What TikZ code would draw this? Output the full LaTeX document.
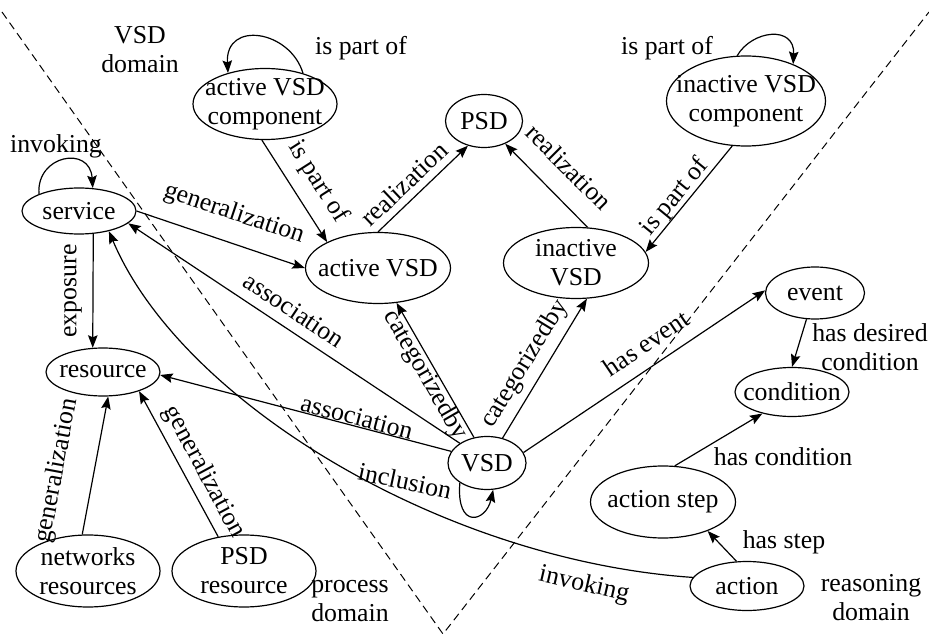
\documentclass[tikz,border=0pt]{standalone}
\usepackage{fontspec}
\setmainfont{Liberation Serif}
\usetikzlibrary{shapes.geometric,arrows.meta}
\tikzset{
  ell/.style={draw, ellipse, line width=1.2pt, inner sep=0pt},
  lbl/.style={align=center, inner sep=0pt, font=\fontsize{25.8}{29}\selectfont},
  txt/.style={align=center, inner sep=0pt, font=\fontsize{25.8}{29}\selectfont},
  arr/.style={line width=1.2pt, -{Stealth[length=12.5pt,width=9.5pt,inset=2pt]}},
  domline/.style={line width=1pt, dash pattern=on 8pt off 5pt}
}
\begin{document}
\begin{tikzpicture}[x=1pt,y=-1pt]
\useasboundingbox (0,0) rectangle (929,636);
% domain borders
\coordinate (dl) at (2,12);
\coordinate (dv) at (443,634);
\coordinate (dr) at (929,12);
\draw[domline] (dl) -- (dv) -- (dr);

% nodes
\node[ell, minimum width=114pt, minimum height=46pt, label={[lbl]center:service}] (svc) at (79,211) {};
\node[ell, minimum width=114pt, minimum height=48pt, label={[lbl]center:resource}] (res) at (103,372) {};
\node[ell, minimum width=144pt, minimum height=72pt, label={[lbl]center:networks\\resources}] (nr) at (88,571) {};
\node[ell, minimum width=144pt, minimum height=72pt, label={[lbl]center:PSD\\resource}] (psdr) at (244,571) {};
\node[ell, minimum width=144pt, minimum height=71pt, label={[lbl]center:active VSD\\component}] (avc) at (265,104) {};
\node[ell, minimum width=145pt, minimum height=71pt, label={[lbl]center:active VSD}] (avsd) at (378,268) {};
\node[ell, minimum width=77pt, minimum height=53pt, label={[lbl]center:PSD}] (psd) at (484,121) {};
\node[ell, minimum width=159pt, minimum height=90pt, label={[lbl]center:inactive VSD\\component}] (ivc) at (746,101) {};
\node[ell, minimum width=145pt, minimum height=71pt, label={[lbl]center:inactive\\VSD}] (ivsd) at (576,263) {};
\node[ell, minimum width=99pt, minimum height=52pt, label={[lbl]center:event}] (evt) at (815,293) {};
\node[ell, minimum width=114pt, minimum height=49pt, label={[lbl]center:condition}] (cond) at (792,392) {};
\node[ell, minimum width=145pt, minimum height=72pt, label={[lbl]center:action step}] (astep) at (663,502) {};
\node[ell, minimum width=114pt, minimum height=49pt, label={[lbl]center:action}] (act) at (747,586) {};
\node[ell, minimum width=78pt, minimum height=53pt, label={[lbl]center:VSD}] (vsd) at (487,463) {};

% connectors
\draw[arr] (avc.39) .. controls (290,30) and (225,20) .. (avc.140);
\draw[arr] (ivc.101) .. controls (752,30) and (795,25) .. (ivc.38);
\draw[arr] (svc.157) .. controls (36,155) and (90,145) .. (svc.59);
\draw[arr] (svc.east) -- (avsd.west);
\draw[arr] (avc.265) -- (avsd.153);
\draw[arr] (avsd.90) -- (psd.237);
\draw[arr] (ivsd.72) -- (psd.-47);
\draw[arr] (ivc.253) -- (ivsd.9);
\draw[arr] (vsd.117) -- (avsd.-62);
\draw[arr] (vsd.58) -- (ivsd.-73);
\draw[arr] (vsd.144) -- (svc.-14);
\draw[arr] (vsd.162) -- (res.-3);
\draw[arr] (vsd.216) .. controls (456,530) and (486,522) .. (vsd.-77);
\draw[arr] (act.171) .. controls (440,560) and (180,400) .. (svc.-34);
\draw[arr] (svc.-58) -- (res.113);
\draw[arr] (nr.99) -- (res.-78);
\draw[arr] (psdr.127) -- (res.-28);
\draw[arr] (vsd.16) -- (evt.177);
\draw[arr] (evt.252) -- (cond.90);
\draw[arr] (astep.72) -- (cond.216);
\draw[arr] (act.113) -- (astep.-33);

% connector labels
\node[txt, rotate=-18.5] (l1) at (234,214) {generalization};
\node[txt, rotate=-57.5] (l2) at (318,182) {is part of};
\node[txt, rotate=43.4] (l3) at (404,184) {realization};
\node[txt, rotate=-45] (l4) at (569,167) {realization};
\node[txt, rotate=50.7] (l5) at (675,197) {is part of};
\node[txt, rotate=-60] (l6) at (425,375) {categorizedby};
\node[txt, rotate=58.5] (l7) at (525,364) {categorizedby};
\node[txt, rotate=-33.7] (l8) at (294,310) {association};
\node[txt, rotate=-14.5] (l9) at (357,417) {association};
\node[txt, rotate=-12] (l10) at (405,481) {inclusion};
\node[txt, rotate=-13] (l11) at (584,585) {invoking};
\node[txt, rotate=90] (l12) at (73,291) {exposure};
\node[txt, rotate=79.3] (l13) at (57,471) {generalization};
\node[txt, rotate=-61.7] (l14) at (204,472) {generalization};
\node[txt, rotate=34] (l15) at (646,343) {has event};
\node[txt] (l16) at (870,347) {has desired\\condition};
\node[txt] (l17) at (783,457) {has condition};
\node[txt] (l18) at (784,542) {has step};
\node[txt] (l19) at (361,48) {is part of};
\node[txt] (l20) at (667,48) {is part of};
\node[txt] (l21) at (56,146) {invoking};

% domain labels
\node[txt] (d1) at (140,50) {VSD\\domain};
\node[txt] (d2) at (350,601) {process\\domain};
\node[txt] (d3) at (871,598) {reasoning\\domain};
\end{tikzpicture}
\end{document}
